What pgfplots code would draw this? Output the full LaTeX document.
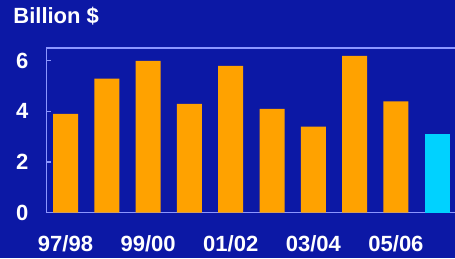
\documentclass[border=0pt]{standalone}
\usepackage{fontspec}
\setmainfont{Liberation Sans}
\usepackage{pgfplots}
\pgfplotsset{compat=1.18}
\definecolor{bgblue}{RGB}{12,24,165}
\definecolor{axcol}{RGB}{140,150,255}
\definecolor{barorange}{RGB}{255,162,0}
\definecolor{barcyan}{RGB}{0,210,255}
\begin{document}
\begin{tikzpicture}
\clip (-23.25pt,-22.75pt) rectangle (204.25pt,106.25pt);
\fill[bgblue] (-23.25pt,-22.75pt) rectangle (204.25pt,106.25pt);
\begin{axis}[
  at={(0pt,0pt)}, anchor=south west,
  scale only axis,
  width=204.25pt, height=82.25pt,
  xmin=-0.46, xmax=9.43,
  ymin=0, ymax=6.51,
  axis lines=left,
  axis line style={-, draw=axcol, line width=0.7pt},
  ytick={0,2,4,6},
  xtick={0,2,4,6,8},
  xticklabels={97/98,99/00,01/02,03/04,05/06},
  major tick length=2.5pt,
  ytick style={draw=axcol, line width=0.6pt},
  xtick style={draw=none},
  tick align=inside,
  /pgf/number format/assume math mode=true,
  tick label style={font=\fontsize{11}{13}\selectfont\bfseries, text=white},
  yticklabel style={xshift=-5.5pt},
  xticklabel style={yshift=-5.5pt},
  ybar, bar width=12.5pt,
  clip=false,
]
\addplot[fill=barorange, draw=none, bar shift=0pt] coordinates {
 (0,3.9) (1,5.3) (2,6.0) (3,4.3) (4,5.8) (5,4.1) (6,3.4) (7,6.2) (8,4.4)
};
\addplot[fill=barcyan, draw=none, bar shift=0pt] coordinates {(9,3.1)};
\draw[axcol, line width=0.7pt] (rel axis cs:0,1) -- (rel axis cs:1.05,1);
\end{axis}
\node[anchor=west, inner sep=0pt, text=white, font=\fontsize{11}{13}\selectfont\bfseries] at (-16.75pt,98.25pt) {Billion \$};
\end{tikzpicture}
\end{document}
